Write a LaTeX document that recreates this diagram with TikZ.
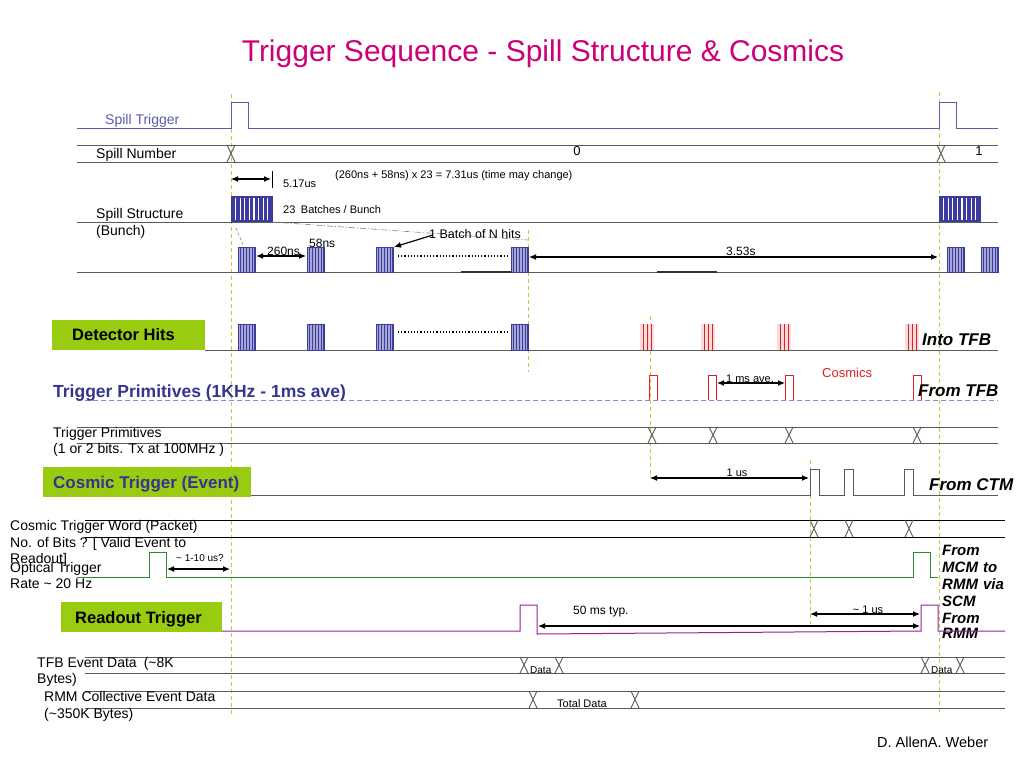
\documentclass[tikz,border=0pt]{standalone}
\usepackage{fontspec}
\setmainfont{Liberation Sans}
\usetikzlibrary{arrows.meta,positioning}
\definecolor{titlemag}{HTML}{CC0077}
\definecolor{sigblue}{HTML}{5B5BB0}
\definecolor{batchblue}{HTML}{3C3CA0}
\definecolor{primblue}{HTML}{35358F}
\definecolor{busgray}{HTML}{5A5A5A}
\definecolor{guideyel}{HTML}{C8C83C}
\definecolor{boxgreen}{HTML}{99CC11}
\definecolor{optgreen}{HTML}{2E8B2E}
\definecolor{rdpurple}{HTML}{9A1E9A}
\definecolor{hitred}{HTML}{E02020}
\definecolor{hitpink}{HTML}{FADADA}
\definecolor{dashlav}{HTML}{8A8AC8}

\newcommand{\fs}[1]{\fontsize{#1}{#1}\selectfont}
\newcommand{\batchblk}[3]{%
  \fill[batchblue!45] (#1,#2) rectangle (#1+17,#3);
  \foreach \k in {0,2.8,...,17} {\draw[batchblue,line width=0.7pt] (#1+\k,#2) -- (#1+\k,#3);}
  \draw[batchblue,line width=0.8pt] (#1,#2) rectangle (#1+17,#3);}
\newcommand{\bunchblk}[1]{%
  \fill[batchblue] (#1,196) rectangle (#1+42,222);
  \foreach \k in {4.6,9.2,...,40} {\draw[white,line width=1.1pt] (#1+\k,198) -- (#1+\k,220);}}
\newcommand{\cosmichit}[1]{%
  \fill[hitpink] (#1,324) rectangle (#1+14,350);
  \foreach \k in {3,7,11} {\draw[hitred,line width=0.9pt] (#1+\k,324) -- (#1+\k,350);}}
\newcommand{\xmk}[3]{\draw[busgray,line width=0.9pt] (#1-4,#2) -- (#1+4,#3) (#1+4,#2) -- (#1-4,#3);}

\begin{document}
\begin{tikzpicture}[x=1pt,y=-1pt,
    lbl/.style={anchor=base west,inner sep=0pt,font=\fs{14}},
    note/.style={anchor=base west,inner sep=0pt,font=\fs{11}},
    side/.style={anchor=base west,inner sep=0pt,font=\fs{17}\bfseries\itshape},
    greenbox/.style={fill=boxgreen,inner sep=0pt,anchor=north west,
                     font=\fs{17}\bfseries},
    bus/.style={draw=busgray,line width=1pt},
    guide/.style={draw=guideyel,line width=0.9pt,dash pattern=on 4pt off 3pt},
    dim/.style={{Latex[length=7pt,width=6pt]}-{Latex[length=7pt,width=6pt]},line width=1.2pt}]
  \useasboundingbox[fill=white] (0,0) rectangle (1024,768);

  \node[anchor=base,inner sep=0pt,text=titlemag,font=\fs{30}] (title) at (543,62)
    {Trigger Sequence - Spill Structure \& Cosmics};

  \draw[guide] (231,94) -- (231,715);
  \draw[guide] (939,92) -- (939,715);
  \draw[guide] (528,230) -- (528,372);
  \draw[guide] (650,316) -- (650,478);
  \draw[guide] (810,460) -- (810,624);

  \node[lbl,text=sigblue] (spilltrig) at (105,124) {Spill Trigger};
  \draw[sigblue,line width=1pt] (77,128) -- (231,128) -- (231,102) -- (248,102) -- (248,128)
    -- (939,128) -- (939,102) -- (956,102) -- (956,128) -- (998,128);

  \node[lbl] (spillnum) at (96,158) {Spill Number};
  \draw[bus] (77,145) -- (998,145) (77,162) -- (998,162);
  \xmk{231}{145}{162}
  \xmk{941}{145}{162}
  \node[anchor=base,inner sep=0pt,font=\fs{13}] (num0) at (577,155) {0};
  \node[anchor=base,inner sep=0pt,font=\fs{13}] (num1) at (979,155) {1};

  \draw[dim] (231,179) -- (271,179);
  \draw[line width=1pt] (272,171) -- (272,188);
  \node[note] (t517) at (283,187) {5.17us};
  \node[note] (tcalc) at (335,178) {(260ns + 58ns) x 23 = 7.31us (time may change)};

  \node[lbl] (spillstr) at (96,218) {Spill Structure};
  \node[lbl] (bunchlbl) at (96,235) {(Bunch)};
  \draw[bus] (77,222) -- (998,222);
  \bunchblk{231}
  \bunchblk{939}
  \node[note] (nbatch) at (283,213) {23\enspace Batches / Bunch};
  \draw[gray,line width=0.6pt,dash pattern=on 6pt off 2pt on 1pt off 2pt] (272,222) -- (528,240);
  \draw[gray,line width=0.6pt,dash pattern=on 3pt off 2pt] (236,228) -- (243,245);

  \draw[bus] (77,272) -- (998,272);
  \draw[black!80,line width=2pt] (461,272) -- (511,272) (657,272) -- (717,272);
  \foreach \bx in {238,307,376,511,947,981} {\batchblk{\bx}{247}{272}}
  \draw[line width=1.2pt,dotted] (398,256) -- (509,256);
  \draw[dim] (256,256) -- (306,256);
  \node[note,font=\fs{12}] (t260) at (267,255) {260ns};
  \node[note,font=\fs{12}] (t58) at (309,247) {58ns};
  \node[note,font=\fs{12.5}] (nhits) at (429,238) {1 Batch of N hits};
  \draw[-{Latex[length=7pt,width=6pt]},line width=1.2pt] (433,235) -- (394,247);
  \draw[dim] (529,257) -- (938,257);
  \node[note,font=\fs{12}] (t353) at (726,255) {3.53s};

  \node[greenbox,minimum width=153pt,minimum height=30pt] (dethits) at (52,320) {};
  \node[anchor=base west,inner sep=0pt,font=\fs{16.5}\bfseries] (dettxt) at (72,340) {Detector Hits};
  \draw[bus] (205,350) -- (998,350);
  \foreach \bx in {238,307,376,511} {\batchblk{\bx}{324}{350}}
  \draw[line width=1.2pt,dotted] (398,332) -- (509,332);
  \foreach \hx in {640,701,777,905} {\cosmichit{\hx}}
  \node[side] (intotfb) at (922,345) {Into TFB};

  \draw[dashlav,line width=1pt,dash pattern=on 5pt off 3pt] (77,400) -- (998,400);
  \node[anchor=base west,inner sep=0pt,text=primblue,font=\fs{17.5}\bfseries] (primlbl) at (53,397)
    {Trigger Primitives (1KHz - 1ms ave)};
  \foreach \px in {649,708,785,913} {\draw[hitred,line width=1pt] (\px,400) -- (\px,375) -- (\px+8,375) -- (\px+8,400);}
  \draw[dim] (717,383) -- (785,383);
  \node[anchor=base,inner sep=0pt,font=\fs{11}] (t1ms) at (750,382) {1 ms ave.};
  \node[anchor=base west,inner sep=0pt,text=hitred,font=\fs{13}] (cosm) at (822,377) {Cosmics};
  \node[side] (fromtfb) at (918,396) {From TFB};

  \draw[bus] (77,427) -- (998,427) (77,443) -- (998,443);
  \foreach \px in {652,713,789,917} {\xmk{\px}{427}{443}}
  \node[lbl] (primbus) at (53,437) {Trigger Primitives};
  \node[lbl] (primbits) at (53,453) {(1 or 2 bits. Tx at 100MHz )};

  \node[greenbox,minimum width=208pt,minimum height=30pt] (cosmtrig) at (43,467) {};
  \node[anchor=base west,inner sep=0pt,text=primblue,font=\fs{17}\bfseries] (cosmtxt) at (53,488)
    {Cosmic Trigger (Event)};
  \draw[bus] (251,495) -- (810,495) -- (810,469) -- (819,469) -- (819,495) -- (844,495) -- (844,469)
    -- (853,469) -- (853,495) -- (904,495) -- (904,469) -- (913,469) -- (913,495) -- (998,495);
  \draw[dim] (650,478) -- (809,478);
  \node[anchor=base,inner sep=0pt,font=\fs{11}] (t1us) at (737,476) {1 us};
  \node[side] (fromctm) at (929,490) {From CTM};

  \draw[black,line width=1pt] (85,520) -- (1005,520) (85,537) -- (1005,537);
  \foreach \px in {814,849,909} {\xmk{\px}{520}{537}}
  \node[lbl] (ctword) at (10,530) {Cosmic Trigger Word (Packet)};
  \node[lbl] (ctbits) at (10,547) {No. of Bits ? [ Valid Event to};
  \node[lbl] (ctread) at (10,563) {Readout]};

  \draw[optgreen,line width=1pt] (77,577) -- (149,577) -- (149,552) -- (166,552) -- (166,577)
    -- (913,577) -- (913,552) -- (930,552) -- (930,577) -- (938,577);
  \node[lbl] (optlbl) at (10,572) {Optical Trigger};
  \node[lbl] (optrate) at (10,588) {Rate \textasciitilde{} 20 Hz};
  \draw[dim] (167,569) -- (230,569);
  \node[anchor=base west,inner sep=0pt,font=\fs{10}] (t110) at (176,561) {\textasciitilde{} 1-10 us?};
  \node[anchor=north west,inner sep=0pt,align=left,font=\fs{15}\bfseries\itshape,
        text width=70pt] (frommcm) at (942,545)
    {\baselineskip=17pt From\\MCM to\\RMM via\\SCM\\From\\RMM};

  \node[greenbox,minimum width=161pt,minimum height=30pt] (rdtrig) at (61,602) {};
  \node[anchor=base west,inner sep=0pt,font=\fs{16.5}\bfseries] (rdtxt) at (75,623) {Readout Trigger};
  \draw[rdpurple,line width=1pt] (222,631) -- (520,631) -- (520,605) -- (537,605) -- (537,634)
    -- (921,631) -- (921,605) -- (938,605) -- (938,631) -- (1005,631);
  \draw[dim] (538,626) -- (920,626);
  \node[anchor=base west,inner sep=0pt,font=\fs{12}] (t50) at (573,614) {50 ms typ.};
  \draw[dim] (810,614) -- (920,614);
  \node[anchor=base,inner sep=0pt,font=\fs{11}] (t1us2) at (868,613) {\textasciitilde{} 1 us};

  \draw[bus] (85,657) -- (1005,657) (85,673) -- (1005,673);
  \foreach \px in {524,559,925,960} {\xmk{\px}{657}{673}}
  \node[anchor=base west,inner sep=0pt,font=\fs{10}] (data1) at (530,673) {Data};
  \node[anchor=base west,inner sep=0pt,font=\fs{10}] (data2) at (931,673) {Data};
  \node[lbl] (tfblbl) at (37,667) {TFB Event Data\enspace(\textasciitilde8K};
  \node[lbl] (tfbbytes) at (37,683) {Bytes)};

  \draw[bus] (85,691) -- (1005,691) (85,708) -- (1005,708);
  \foreach \px in {533,635} {\xmk{\px}{691}{708}}
  \node[anchor=base west,inner sep=0pt,font=\fs{11}] (total) at (557,707) {Total Data};
  \node[lbl] (rmmlbl) at (44,701) {RMM Collective Event Data};
  \node[lbl] (rmmbytes) at (44,718) {(\textasciitilde350K Bytes)};

  \node[anchor=base west,inner sep=0pt,font=\fs{14.5}] (author) at (877,747) {D. AllenA. Weber};
\end{tikzpicture}
\end{document}
